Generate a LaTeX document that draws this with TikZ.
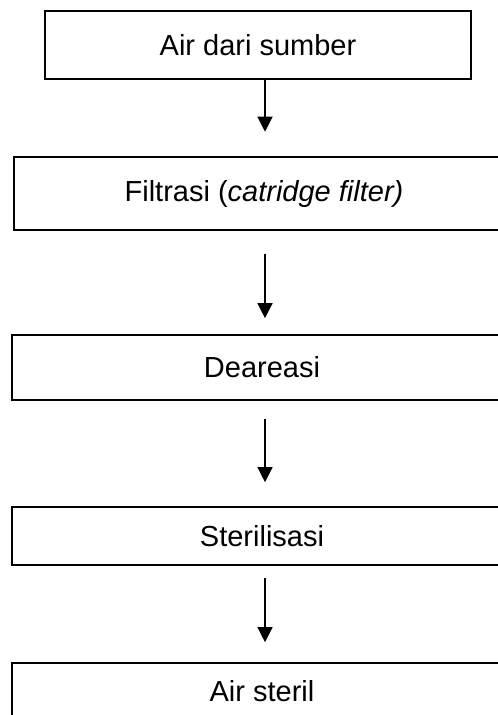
\documentclass[tikz,border=0pt]{standalone}
\usepackage{fontspec}
\setmainfont{Liberation Sans}
\usetikzlibrary{arrows.meta,calc}
\begin{document}
\begin{tikzpicture}[x=1pt,y=-1pt,
  stepbox/.style={draw=black,line width=1.6pt,rectangle,inner sep=0pt,
    font=\fontsize{29}{34}\selectfont},
  arr/.style={line width=1.3pt,-{Triangle[width=15pt,length=15pt]}}]
\useasboundingbox (0,0) rectangle (498,715);
\clip (0,0) rectangle (498,715);
\fill[white] (0,0) rectangle (498,715);
\node[stepbox,minimum width=426pt,minimum height=68pt] (b1) at (258,44.7) {Air dari sumber};
\node[stepbox,minimum width=500pt,minimum height=73pt] (b2) at (264,193.5) {Filtrasi (\textit{catridge filter)}};
\node[stepbox,minimum width=500pt,minimum height=65pt] (b3) at (262,367.5) {Deareasi};
\node[stepbox,minimum width=500pt,minimum height=58pt] (b4) at (262,536) {Sterilisasi};
\node[stepbox,minimum width=500pt,minimum height=57pt] (b5) at (262,691.5) {Air steril};
\draw[arr] ($(b1.south)+(7,0)$) -- ($(b2.north)+(1,-24.5)$);
\draw[arr] ($(b2.south)+(1,22.7)$) -- ($(b3.north)+(3,-16)$);
\draw[arr] ($(b3.south)+(3,18)$) -- ($(b4.north)+(3,-24)$);
\draw[arr] ($(b4.south)+(3,12)$) -- ($(b5.north)+(3,-20)$);
\end{tikzpicture}
\end{document}
